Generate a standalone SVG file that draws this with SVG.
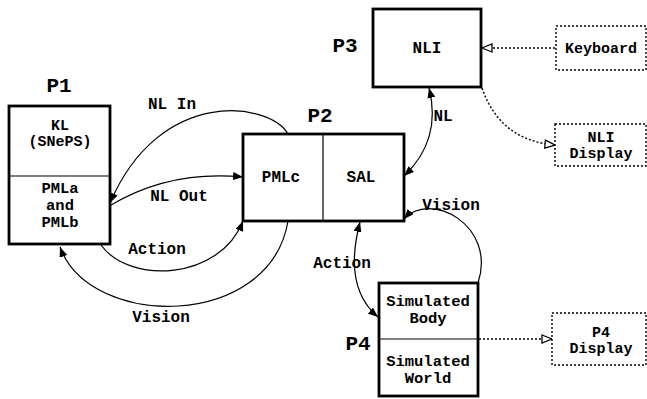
<svg xmlns="http://www.w3.org/2000/svg" width="647" height="399" viewBox="0 0 647 399">
  <style>
    text { font-family: "Liberation Mono", "Courier New", monospace; font-weight: bold; fill: #000; text-anchor: middle; }
    .t { font-size: 16px; }
    .m { font-size: 15.5px; }
    .small { font-size: 15px; }
    .title { font-size: 21px; }
    .box { fill: #fff; stroke: #000; stroke-width: 2.8; }
    .div { stroke: #000; stroke-width: 1.2; fill: none; }
    .dbox { fill: #fff; stroke: #000; stroke-width: 1.4; stroke-dasharray: 2 2; }
    .arc { fill: none; stroke: #000; stroke-width: 1.2; }
    .dot { fill: none; stroke: #000; stroke-width: 1.4; stroke-dasharray: 2 2; }
  </style>
  <defs>
    <marker id="solid" viewBox="0 0 10 8" refX="10" refY="4" markerWidth="10" markerHeight="8" markerUnits="userSpaceOnUse" orient="auto-start-reverse">
      <path d="M0,0 L10,4 L0,8 Z" fill="#000"/>
    </marker>
    <marker id="open" viewBox="0 0 12 10" refX="11" refY="5" markerWidth="12" markerHeight="10" markerUnits="userSpaceOnUse" orient="auto">
      <path d="M1,1 L11,5 L1,9 Z" fill="#fff" stroke="#000" stroke-width="1.3"/>
    </marker>
  </defs>

  <!-- connectors -->
  <g id="connectors">
    <!-- NL In: P2 to P1 -->
    <path class="arc" d="M288,134 C270,102 160,86 110,203" marker-end="url(#solid)"/>
    <!-- NL Out: P1 to P2 -->
    <path class="arc" d="M111,205 Q170,170 243,177" marker-end="url(#solid)"/>
    <!-- Action: P1 to P2 -->
    <path class="arc" d="M101,245 C130,285 220,280 243,221" marker-end="url(#solid)"/>
    <!-- Vision: P2 to P1 -->
    <path class="arc" d="M288,221 C270,330 90,330 60,247" marker-end="url(#solid)"/>
    <!-- NL: P3 <-> P2 -->
    <path class="arc" d="M429,88 Q442,140 404,176" marker-start="url(#solid)" marker-end="url(#solid)"/>
    <!-- Action: P2 <-> P4 -->
    <path class="arc" d="M360,222 C350,260 352,295 378,317" marker-start="url(#solid)" marker-end="url(#solid)"/>
    <!-- Vision: P4 to P2 -->
    <path class="arc" d="M478,283 C497,225 430,190 404,219" marker-end="url(#solid)"/>
    <!-- dotted device links -->
    <path class="dot" d="M555,48 L482,48" marker-end="url(#open)"/>
    <path class="dot" d="M482,88 C495,125 520,142 555,145" marker-end="url(#open)"/>
    <path class="dot" d="M479,339 L552,339" marker-end="url(#open)"/>
  </g>

  <!-- connector labels -->
  <g id="labels">
    <text class="t" x="172" y="109">NL In</text>
    <text class="t" x="179" y="201">NL Out</text>
    <text class="t" x="157" y="254">Action</text>
    <text class="t" x="161" y="322">Vision</text>
    <text class="t" x="443" y="121">NL</text>
    <text class="t" x="342" y="268">Action</text>
    <text class="t" x="451" y="210">Vision</text>
  </g>

  <g id="P1">
    <rect class="box" x="9" y="106" width="101" height="138"/>
    <line class="div" x1="9" y1="176" x2="110" y2="176"/>
    <text class="title" x="59" y="92">P1</text>
    <text class="small" x="60" y="130">KL</text>
    <text class="small" x="60" y="146">(SNePS)</text>
    <text class="m" x="60" y="193">PMLa</text>
    <text class="m" x="60" y="210">and</text>
    <text class="m" x="60" y="227">PMLb</text>
  </g>

  <g id="P2">
    <rect class="box" x="243" y="134" width="161" height="87"/>
    <line class="div" x1="323" y1="134" x2="323" y2="221"/>
    <text class="title" x="320" y="122">P2</text>
    <text class="t" x="281" y="182">PMLc</text>
    <text class="t" x="361" y="182">SAL</text>
  </g>

  <g id="P3">
    <rect class="box" x="373" y="9" width="108" height="78"/>
    <text class="title" x="345" y="52">P3</text>
    <text class="t" x="427" y="53">NLI</text>
  </g>

  <g id="P4">
    <rect class="box" x="379" y="283" width="99" height="113"/>
    <line class="div" x1="379" y1="339" x2="478" y2="339"/>
    <text class="title" x="358" y="350">P4</text>
    <text class="m" x="428" y="306">Simulated</text>
    <text class="m" x="428" y="323">Body</text>
    <text class="m" x="428" y="366">Simulated</text>
    <text class="m" x="428" y="383">World</text>
  </g>

  <g id="Keyboard">
    <rect class="dbox" x="556" y="26" width="90" height="44"/>
    <text class="small" x="601" y="53">Keyboard</text>
  </g>

  <g id="NLIDisplay">
    <rect class="dbox" x="555" y="124" width="91" height="42"/>
    <text class="small" x="601" y="142">NLI</text>
    <text class="small" x="601" y="158">Display</text>
  </g>

  <g id="P4Display">
    <rect class="dbox" x="552" y="313" width="94" height="52"/>
    <text class="small" x="601" y="337">P4</text>
    <text class="small" x="601" y="353">Display</text>
  </g>
</svg>
